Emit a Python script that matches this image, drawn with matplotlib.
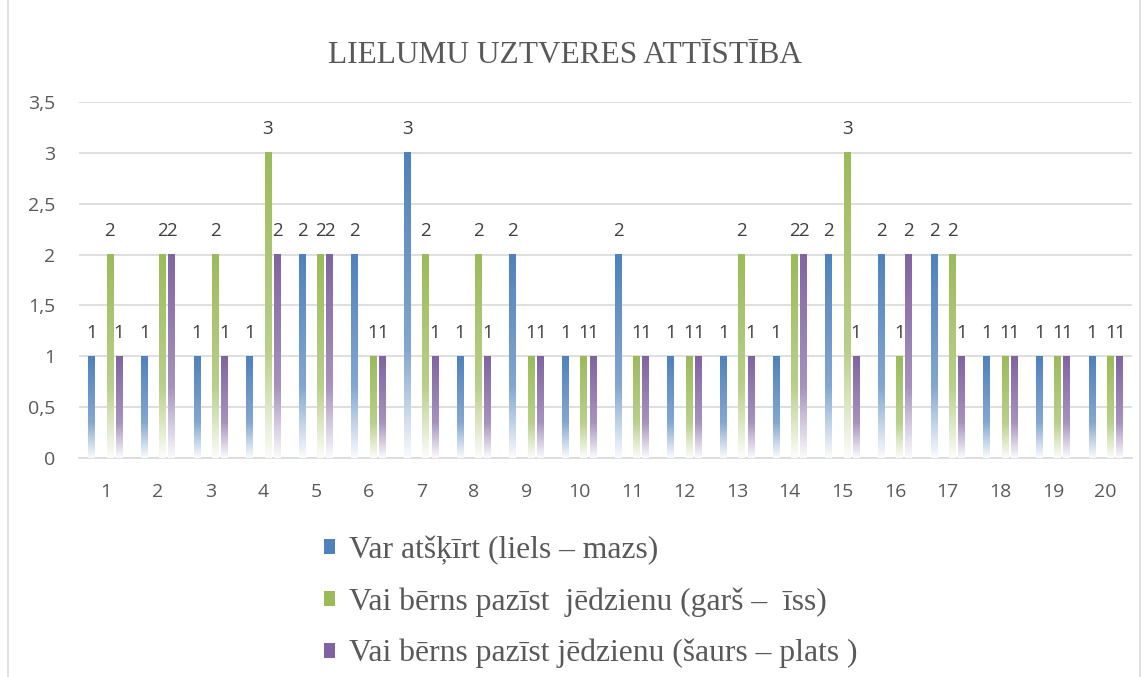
import numpy as np
import matplotlib
matplotlib.use("Agg")
import matplotlib.pyplot as plt
from matplotlib.patches import Patch, Rectangle
from matplotlib.colors import to_rgb

categories = [str(i) for i in range(1, 21)]
series_names = ["Var atšķīrt (liels – mazs)",
                "Vai bērns pazīst  jēdzienu (garš –  īss)",
                "Vai bērns pazīst jēdzienu (šaurs – plats )"]
blue_vals   = [1, 1, 1, 1, 2, 2, 3, 1, 2, 1, 2, 1, 1, 1, 2, 2, 2, 1, 1, 1]
green_vals  = [2, 2, 2, 3, 2, 1, 2, 2, 1, 1, 1, 1, 2, 2, 3, 1, 2, 1, 1, 1]
purple_vals = [1, 2, 1, 2, 2, 1, 1, 1, 1, 1, 1, 1, 1, 2, 1, 2, 1, 1, 1, 1]
colors = ["#4F81BD", "#9BBB59", "#8064A2"]
yticks = [0, 0.5, 1, 1.5, 2, 2.5, 3, 3.5]
ytick_labels = ["0", "0,5", "1", "1,5", "2", "2,5", "3", "3,5"]
title = "LIELUMU UZTVERES ATTĪSTĪBA"

W, H = 1148, 677
fig = plt.figure(figsize=(W / 100, H / 100), dpi=100)
fig.patches.append(Rectangle((8 / W, -0.01), (1140 - 8) / W, 1.02, transform=fig.transFigure,
                             fill=False, edgecolor="#D9D9D9", lw=1.2))

ax_l, ax_r = 79 / W, 1132 / W
ax_b, ax_t = 1 - 458 / H, 1 - 102 / H
ax = fig.add_axes([ax_l, ax_b, ax_r - ax_l, ax_t - ax_b])

slot = 0.174
bw = 0.127
offsets = [-1.5 * slot, 0.5 * slot, 1.5 * slot]


def grad_img(color, n=200):
    t = np.linspace(0, 1, n)  # bottom -> top
    w = np.where(t > 0.35, 0.30 * (1 - t) / 0.65, 0.30 + (0.97 - 0.30) * (0.35 - t) / 0.35)
    c = np.array(to_rgb(color))
    rgb = c[None, :] * (1 - w[:, None]) + w[:, None]
    return rgb[:, None, :]


x = np.arange(1, len(categories) + 1)
for vals, col, off in zip([blue_vals, green_vals, purple_vals], colors, offsets):
    img = grad_img(col)
    for xi, v in zip(x, vals):
        x0 = xi + off - bw / 2
        ax.imshow(img, extent=[x0, x0 + bw, 0, v], origin="lower", aspect="auto",
                  interpolation="bilinear", zorder=3)
        ax.annotate(str(v), (xi + off, v), xytext=(0, 17), textcoords="offset points",
                    ha="center", va="center", fontsize=13.5, color="#404040",
                    family="Open Sans", zorder=4)

ax.set_xlim(0.5, 20.5)
ax.set_ylim(0, 3.5)
ax.set_yticks(yticks)
ax.set_yticklabels(ytick_labels)
ax.set_xticks(x)
ax.set_xticklabels(categories)
ax.grid(axis="y", color="#D9D9D9", lw=1.2, zorder=0)
ax.set_axisbelow(True)
for s in ["left", "right", "top"]:
    ax.spines[s].set_visible(False)
ax.spines["bottom"].set_color("#D9D9D9")
ax.spines["bottom"].set_linewidth(1.2)
ax.tick_params(length=0, labelsize=14, labelcolor="#595959")
ax.tick_params(axis="x", pad=18)
ax.tick_params(axis="y", pad=17)
for lab in ax.get_xticklabels() + ax.get_yticklabels():
    lab.set_family("Open Sans")

fig.text(565 / W, 1 - 63 / H, title, ha="center", va="baseline", fontsize=22.6,
         family="Liberation Serif", color="#595959")

handles = [Patch(facecolor=c, edgecolor="none") for c in colors]
leg = fig.legend(handles, series_names, loc="upper left", bbox_to_anchor=(308 / W, 1 - 520 / H),
                 frameon=False, prop={"family": "Liberation Serif", "size": 22.8},
                 handlelength=0.36, handleheight=0.36, handletextpad=0.45, labelspacing=0.7,
                 borderpad=0)
for t in leg.get_texts():
    t.set_color("#595959")

fig.savefig("out.png", dpi=100)
